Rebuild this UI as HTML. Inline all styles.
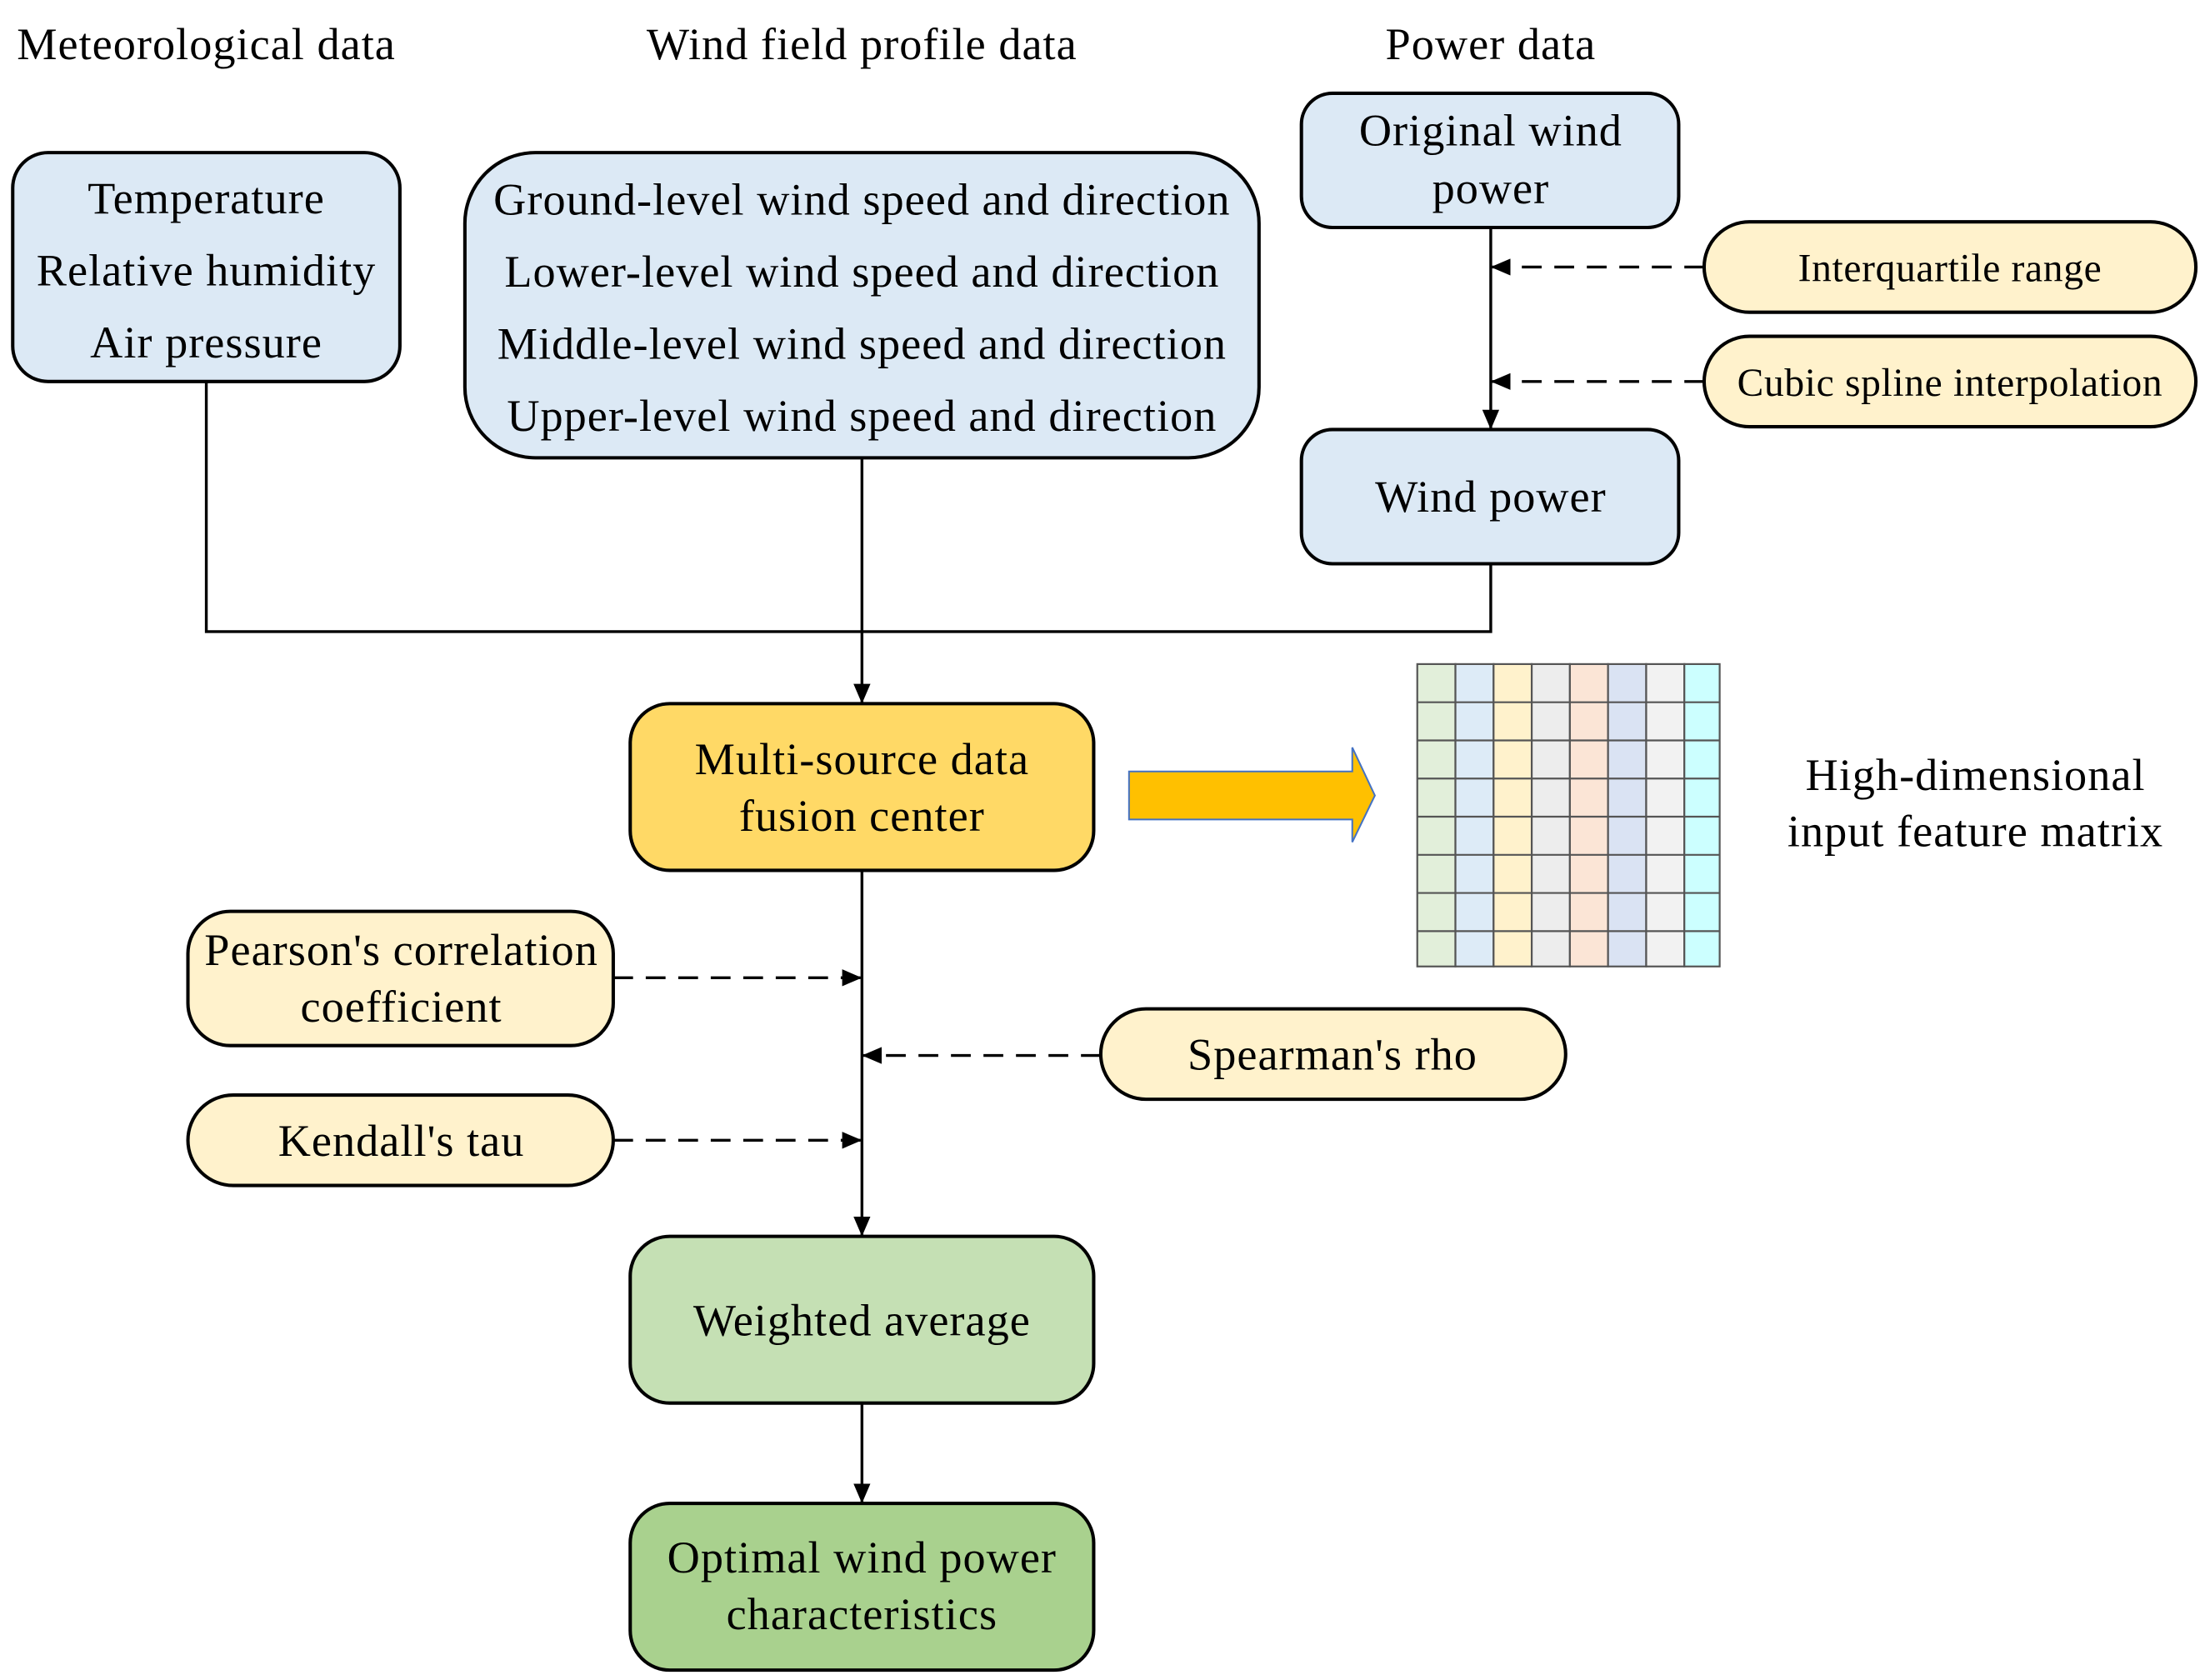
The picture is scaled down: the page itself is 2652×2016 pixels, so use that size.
<!DOCTYPE html>
<html><head><meta charset="utf-8"><style>
html,body{margin:0;padding:0;background:#fff;}
svg{display:block;}
text{font-family:"Liberation Serif",serif;fill:#000;}
</style></head><body>
<svg width="2652" height="2016" viewBox="0 0 1564 1189" preserveAspectRatio="none" xmlns="http://www.w3.org/2000/svg">
<defs>
<marker id="b" markerWidth="14" markerHeight="12" refX="13" refY="6" orient="auto" markerUnits="userSpaceOnUse">
<path d="M0,0 L14,6 L0,12 z" fill="#000"/></marker>
</defs>
<g font-size="32" letter-spacing="0.6" text-anchor="middle">
<text x="146" y="42">Meteorological data</text>
<text x="610" y="42">Wind field profile data</text>
<text x="1055" y="42">Power data</text>
</g>
<g stroke="#000" stroke-width="2.4">
<rect x="9" y="108" width="274" height="162" rx="25" fill="#dce9f5"/>
<rect x="329" y="108" width="562" height="216" rx="50" fill="#dce9f5"/>
<rect x="921" y="66" width="267" height="95" rx="22" fill="#dce9f5"/>
<rect x="921" y="304" width="267" height="95" rx="22" fill="#dce9f5"/>
<rect x="1206" y="157" width="348" height="64" rx="32" fill="#fff2cc"/>
<rect x="1206" y="238" width="348" height="64" rx="32" fill="#fff2cc"/>
<rect x="446" y="498" width="328" height="118" rx="28" fill="#ffd966"/>
<rect x="133" y="645" width="301" height="95" rx="30" fill="#fff2cc"/>
<rect x="133" y="775" width="301" height="64" rx="32" fill="#fff2cc"/>
<rect x="779" y="714" width="329" height="64" rx="32" fill="#fff2cc"/>
<rect x="446" y="875" width="328" height="118" rx="28" fill="#c5e0b4"/>
<rect x="446" y="1064" width="328" height="118" rx="28" fill="#a9d18e"/>
</g>
<g stroke="#000" stroke-width="2" fill="none">
<polyline points="146,270 146,447 1055,447 1055,399"/>
<line x1="610" y1="324" x2="610" y2="497" marker-end="url(#b)"/>
<line x1="1055" y1="161" x2="1055" y2="303" marker-end="url(#b)"/>
<line x1="610" y1="616" x2="610" y2="874" marker-end="url(#b)"/>
<line x1="610" y1="993" x2="610" y2="1063" marker-end="url(#b)"/>
<g stroke-dasharray="14,9">
<line x1="1206" y1="189" x2="1056" y2="189" marker-end="url(#b)"/>
<line x1="1206" y1="270" x2="1056" y2="270" marker-end="url(#b)"/>
<line x1="434" y1="692" x2="609" y2="692" marker-end="url(#b)"/>
<line x1="779" y1="747" x2="611" y2="747" marker-end="url(#b)"/>
<line x1="434" y1="807" x2="609" y2="807" marker-end="url(#b)"/>
</g>
</g>
<path d="M799,546 L957,546 L957,529 L973,563 L957,596 L957,580 L799,580 Z" fill="#ffc000" stroke="#4472c4" stroke-width="1.2"/>
<g stroke="#555" stroke-width="1.3">
<rect x="1003" y="470" width="27" height="214" fill="#e2efda"/>
<rect x="1030" y="470" width="27" height="214" fill="#ddebf7"/>
<rect x="1057" y="470" width="27" height="214" fill="#fff2cc"/>
<rect x="1084" y="470" width="27" height="214" fill="#ededed"/>
<rect x="1111" y="470" width="27" height="214" fill="#fbe5d6"/>
<rect x="1138" y="470" width="27" height="214" fill="#dae3f3"/>
<rect x="1165" y="470" width="27" height="214" fill="#f2f2f2"/>
<rect x="1192" y="470" width="25" height="214" fill="#ccffff"/>
<path d="M1003,497H1217M1003,524H1217M1003,551H1217M1003,578H1217M1003,605H1217M1003,632H1217M1003,659H1217" fill="none"/>
</g>
<g font-size="32" letter-spacing="0.6" text-anchor="middle">
<text x="146" y="151">Temperature</text>
<text x="146" y="202">Relative humidity</text>
<text x="146" y="253">Air pressure</text>
<text x="610" y="152">Ground-level wind speed and direction</text>
<text x="610" y="203">Lower-level wind speed and direction</text>
<text x="610" y="254">Middle-level wind speed and direction</text>
<text x="610" y="305">Upper-level wind speed and direction</text>
<text x="1055" y="103">Original wind</text>
<text x="1055" y="144">power</text>
<text x="1055" y="362">Wind power</text>
<text x="610" y="548">Multi-source data</text>
<text x="610" y="588">fusion center</text>
<text x="1398" y="559">High-dimensional</text>
<text x="1398" y="599">input feature matrix</text>
<text x="284" y="683">Pearson's correlation</text>
<text x="284" y="723">coefficient</text>
<text x="284" y="818">Kendall's tau</text>
<text x="943" y="757">Spearman's rho</text>
<text x="610" y="945">Weighted average</text>
<text x="610" y="1113">Optimal wind power</text>
<text x="610" y="1153">characteristics</text>
</g>
<g font-size="28" letter-spacing="0.4" text-anchor="middle">
<text x="1380" y="199">Interquartile range</text>
<text x="1380" y="280">Cubic spline interpolation</text>
</g>
</svg>
</body></html>
